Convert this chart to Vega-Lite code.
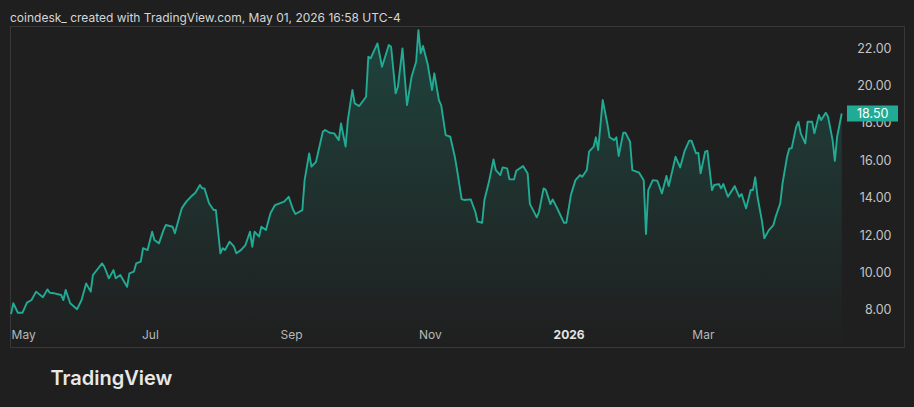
{
  "$schema": "https://vega.github.io/schema/vega-lite/v6.json",
  "autosize": "none",
  "width": 894,
  "height": 321,
  "padding": {"left": 10, "top": 26, "right": 10, "bottom": 60},
  "background": "#1f1f1f",
  "title": {
    "text": "coindesk_ created with TradingView.com, May 01, 2026 16:58 UTC-4",
    "anchor": "start",
    "frame": "group",
    "offset": -8,
    "baseline": "alphabetic",
    "font": "Inter",
    "fontSize": 12,
    "fontWeight": "normal",
    "color": "#d6d6d6"
  },
  "data": {
    "values": [
      {"date": "2025-05-01", "close": 7.78},
      {"date": "2025-05-02", "close": 8.36},
      {"date": "2025-05-04", "close": 7.85},
      {"date": "2025-05-06", "close": 7.85},
      {"date": "2025-05-08", "close": 8.39},
      {"date": "2025-05-10", "close": 8.53},
      {"date": "2025-05-12", "close": 8.98},
      {"date": "2025-05-15", "close": 8.68},
      {"date": "2025-05-17", "close": 9.10},
      {"date": "2025-05-18", "close": 8.92},
      {"date": "2025-05-20", "close": 8.89},
      {"date": "2025-05-23", "close": 8.80},
      {"date": "2025-05-24", "close": 8.53},
      {"date": "2025-05-25", "close": 9.07},
      {"date": "2025-05-27", "close": 8.36},
      {"date": "2025-05-30", "close": 8.04},
      {"date": "2025-06-01", "close": 8.53},
      {"date": "2025-06-03", "close": 9.42},
      {"date": "2025-06-05", "close": 8.98},
      {"date": "2025-06-06", "close": 9.87},
      {"date": "2025-06-10", "close": 10.49},
      {"date": "2025-06-11", "close": 10.31},
      {"date": "2025-06-13", "close": 9.69},
      {"date": "2025-06-15", "close": 10.13},
      {"date": "2025-06-16", "close": 9.69},
      {"date": "2025-06-18", "close": 9.87},
      {"date": "2025-06-21", "close": 9.24},
      {"date": "2025-06-22", "close": 9.96},
      {"date": "2025-06-24", "close": 10.05},
      {"date": "2025-06-25", "close": 10.49},
      {"date": "2025-06-27", "close": 10.58},
      {"date": "2025-06-28", "close": 11.30},
      {"date": "2025-06-30", "close": 11.20},
      {"date": "2025-07-02", "close": 12.18},
      {"date": "2025-07-03", "close": 11.74},
      {"date": "2025-07-05", "close": 11.56},
      {"date": "2025-07-07", "close": 12.27},
      {"date": "2025-07-08", "close": 12.54},
      {"date": "2025-07-11", "close": 12.45},
      {"date": "2025-07-12", "close": 12.10},
      {"date": "2025-07-14", "close": 12.99},
      {"date": "2025-07-15", "close": 13.43},
      {"date": "2025-07-17", "close": 13.79},
      {"date": "2025-07-19", "close": 14.05},
      {"date": "2025-07-21", "close": 14.27},
      {"date": "2025-07-23", "close": 14.68},
      {"date": "2025-07-24", "close": 14.50},
      {"date": "2025-07-25", "close": 14.50},
      {"date": "2025-07-27", "close": 13.70},
      {"date": "2025-07-29", "close": 13.34},
      {"date": "2025-07-30", "close": 13.34},
      {"date": "2025-08-01", "close": 11.03},
      {"date": "2025-08-02", "close": 11.30},
      {"date": "2025-08-03", "close": 11.20},
      {"date": "2025-08-05", "close": 11.65},
      {"date": "2025-08-07", "close": 11.38},
      {"date": "2025-08-08", "close": 11.03},
      {"date": "2025-08-10", "close": 11.20},
      {"date": "2025-08-12", "close": 11.47},
      {"date": "2025-08-14", "close": 12.18},
      {"date": "2025-08-15", "close": 11.38},
      {"date": "2025-08-16", "close": 12.18},
      {"date": "2025-08-18", "close": 11.92},
      {"date": "2025-08-19", "close": 12.45},
      {"date": "2025-08-21", "close": 12.27},
      {"date": "2025-08-23", "close": 13.17},
      {"date": "2025-08-25", "close": 13.61},
      {"date": "2025-08-27", "close": 13.70},
      {"date": "2025-08-29", "close": 13.79},
      {"date": "2025-08-31", "close": 14.05},
      {"date": "2025-09-02", "close": 13.34},
      {"date": "2025-09-03", "close": 13.13},
      {"date": "2025-09-06", "close": 13.34},
      {"date": "2025-09-07", "close": 14.94},
      {"date": "2025-09-09", "close": 16.37},
      {"date": "2025-09-10", "close": 15.66},
      {"date": "2025-09-12", "close": 15.92},
      {"date": "2025-09-15", "close": 17.53},
      {"date": "2025-09-16", "close": 17.62},
      {"date": "2025-09-18", "close": 17.47},
      {"date": "2025-09-20", "close": 17.44},
      {"date": "2025-09-22", "close": 17.08},
      {"date": "2025-09-23", "close": 17.97},
      {"date": "2025-09-25", "close": 16.73},
      {"date": "2025-09-26", "close": 18.15},
      {"date": "2025-09-28", "close": 19.76},
      {"date": "2025-09-29", "close": 19.04},
      {"date": "2025-10-01", "close": 18.90},
      {"date": "2025-10-04", "close": 19.40},
      {"date": "2025-10-05", "close": 21.54},
      {"date": "2025-10-06", "close": 21.45},
      {"date": "2025-10-07", "close": 21.72},
      {"date": "2025-10-09", "close": 22.25},
      {"date": "2025-10-11", "close": 21.00},
      {"date": "2025-10-14", "close": 22.16},
      {"date": "2025-10-15", "close": 22.07},
      {"date": "2025-10-17", "close": 19.58},
      {"date": "2025-10-18", "close": 19.93},
      {"date": "2025-10-20", "close": 21.98},
      {"date": "2025-10-22", "close": 18.95},
      {"date": "2025-10-24", "close": 20.47},
      {"date": "2025-10-26", "close": 21.27},
      {"date": "2025-10-27", "close": 22.96},
      {"date": "2025-10-28", "close": 21.72},
      {"date": "2025-10-29", "close": 22.11},
      {"date": "2025-10-31", "close": 21.18},
      {"date": "2025-11-02", "close": 19.76},
      {"date": "2025-11-03", "close": 20.65},
      {"date": "2025-11-05", "close": 19.22},
      {"date": "2025-11-06", "close": 18.95},
      {"date": "2025-11-08", "close": 17.35},
      {"date": "2025-11-10", "close": 17.26},
      {"date": "2025-11-12", "close": 16.19},
      {"date": "2025-11-13", "close": 15.48},
      {"date": "2025-11-15", "close": 13.92},
      {"date": "2025-11-16", "close": 13.88},
      {"date": "2025-11-19", "close": 13.91},
      {"date": "2025-11-21", "close": 13.25},
      {"date": "2025-11-22", "close": 12.72},
      {"date": "2025-11-24", "close": 12.66},
      {"date": "2025-11-25", "close": 13.88},
      {"date": "2025-11-27", "close": 14.85},
      {"date": "2025-11-29", "close": 16.05},
      {"date": "2025-11-30", "close": 15.48},
      {"date": "2025-12-02", "close": 15.21},
      {"date": "2025-12-03", "close": 15.62},
      {"date": "2025-12-05", "close": 15.57},
      {"date": "2025-12-06", "close": 14.98},
      {"date": "2025-12-08", "close": 14.98},
      {"date": "2025-12-09", "close": 15.44},
      {"date": "2025-12-12", "close": 15.69},
      {"date": "2025-12-14", "close": 15.30},
      {"date": "2025-12-15", "close": 13.66},
      {"date": "2025-12-16", "close": 13.43},
      {"date": "2025-12-18", "close": 12.95},
      {"date": "2025-12-19", "close": 13.25},
      {"date": "2025-12-21", "close": 14.50},
      {"date": "2025-12-22", "close": 14.41},
      {"date": "2025-12-24", "close": 13.66},
      {"date": "2025-12-25", "close": 13.91},
      {"date": "2025-12-27", "close": 13.43},
      {"date": "2025-12-28", "close": 13.17},
      {"date": "2025-12-30", "close": 12.66},
      {"date": "2025-12-31", "close": 12.66},
      {"date": "2026-01-02", "close": 14.14},
      {"date": "2026-01-04", "close": 14.94},
      {"date": "2026-01-06", "close": 15.21},
      {"date": "2026-01-07", "close": 15.12},
      {"date": "2026-01-09", "close": 15.48},
      {"date": "2026-01-10", "close": 16.46},
      {"date": "2026-01-12", "close": 16.73},
      {"date": "2026-01-13", "close": 17.23},
      {"date": "2026-01-14", "close": 16.55},
      {"date": "2026-01-16", "close": 19.22},
      {"date": "2026-01-18", "close": 17.97},
      {"date": "2026-01-19", "close": 17.23},
      {"date": "2026-01-21", "close": 17.08},
      {"date": "2026-01-22", "close": 17.23},
      {"date": "2026-01-23", "close": 16.23},
      {"date": "2026-01-25", "close": 17.47},
      {"date": "2026-01-26", "close": 17.47},
      {"date": "2026-01-28", "close": 16.99},
      {"date": "2026-01-29", "close": 15.48},
      {"date": "2026-02-01", "close": 15.34},
      {"date": "2026-02-03", "close": 14.94},
      {"date": "2026-02-04", "close": 12.06},
      {"date": "2026-02-05", "close": 14.41},
      {"date": "2026-02-07", "close": 14.94},
      {"date": "2026-02-09", "close": 14.91},
      {"date": "2026-02-11", "close": 14.23},
      {"date": "2026-02-13", "close": 15.16},
      {"date": "2026-02-14", "close": 14.62},
      {"date": "2026-02-17", "close": 16.19},
      {"date": "2026-02-19", "close": 15.62},
      {"date": "2026-02-21", "close": 16.51},
      {"date": "2026-02-23", "close": 17.05},
      {"date": "2026-02-24", "close": 17.05},
      {"date": "2026-02-26", "close": 16.37},
      {"date": "2026-02-27", "close": 16.40},
      {"date": "2026-02-28", "close": 15.30},
      {"date": "2026-03-02", "close": 16.46},
      {"date": "2026-03-03", "close": 16.51},
      {"date": "2026-03-05", "close": 14.41},
      {"date": "2026-03-06", "close": 14.68},
      {"date": "2026-03-08", "close": 14.73},
      {"date": "2026-03-09", "close": 14.50},
      {"date": "2026-03-10", "close": 14.73},
      {"date": "2026-03-12", "close": 14.05},
      {"date": "2026-03-15", "close": 14.62},
      {"date": "2026-03-17", "close": 14.05},
      {"date": "2026-03-18", "close": 14.20},
      {"date": "2026-03-20", "close": 13.43},
      {"date": "2026-03-22", "close": 14.41},
      {"date": "2026-03-23", "close": 14.41},
      {"date": "2026-03-24", "close": 15.09},
      {"date": "2026-03-25", "close": 14.05},
      {"date": "2026-03-27", "close": 12.72},
      {"date": "2026-03-28", "close": 11.83},
      {"date": "2026-03-30", "close": 12.27},
      {"date": "2026-04-01", "close": 12.54},
      {"date": "2026-04-02", "close": 12.99},
      {"date": "2026-04-04", "close": 13.70},
      {"date": "2026-04-05", "close": 14.77},
      {"date": "2026-04-07", "close": 16.19},
      {"date": "2026-04-08", "close": 16.64},
      {"date": "2026-04-09", "close": 16.64},
      {"date": "2026-04-11", "close": 17.79},
      {"date": "2026-04-12", "close": 18.06},
      {"date": "2026-04-13", "close": 17.44},
      {"date": "2026-04-15", "close": 16.91},
      {"date": "2026-04-16", "close": 18.06},
      {"date": "2026-04-18", "close": 18.06},
      {"date": "2026-04-19", "close": 17.44},
      {"date": "2026-04-21", "close": 18.42},
      {"date": "2026-04-22", "close": 18.15},
      {"date": "2026-04-24", "close": 18.54},
      {"date": "2026-04-25", "close": 18.33},
      {"date": "2026-04-27", "close": 17.08},
      {"date": "2026-04-28", "close": 15.97},
      {"date": "2026-04-29", "close": 17.26},
      {"date": "2026-05-01", "close": 18.50}
    ]
  },
  "encoding": {
    "x": {
      "field": "date",
      "type": "temporal",
      "scale": {
        "type": "utc",
        "domain": [
          {"year": 2025, "month": 4, "date": 30, "hours": 13, "utc": true},
          {"year": 2026, "month": 5, "date": 28, "hours": 9, "utc": true}
        ],
        "nice": false
      },
      "axis": {
        "orient": "bottom",
        "values": [
          {"year": 2025, "month": 5, "date": 1, "utc": true},
          {"year": 2025, "month": 7, "date": 1, "utc": true},
          {"year": 2025, "month": 9, "date": 1, "utc": true},
          {"year": 2025, "month": 11, "date": 1, "utc": true},
          {"year": 2026, "month": 1, "date": 1, "utc": true},
          {"year": 2026, "month": 3, "date": 1, "utc": true}
        ],
        "labelExpr": "utcmonth(datum.value) == 0 ? utcFormat(datum.value, '%Y') : utcFormat(datum.value, '%b')",
        "labelAlign": {"condition": {"test": "utcmonth(datum.value) == 4", "value": "left"}, "value": "center"},
        "labelFontWeight": {"condition": {"test": "utcmonth(datum.value) == 0", "value": "bold"}, "value": "normal"},
        "labelColor": {"condition": {"test": "utcmonth(datum.value) == 0", "value": "#e6e6e6"}, "value": "#b8b8b8"},
        "labelBaseline": "middle",
        "labelPadding": -13,
        "labelFlush": false,
        "labelOverlap": false,
        "ticks": false,
        "tickSize": 0,
        "domain": false,
        "grid": false,
        "title": "TradingView",
        "titleAnchor": "start",
        "titleAlign": "left",
        "titleBaseline": "middle",
        "titleX": 40,
        "titleY": 31,
        "titleFont": "Inter",
        "titleFontSize": 20,
        "titleFontWeight": 600,
        "titleColor": "#e8e8e8"
      }
    },
    "y": {
      "field": "close",
      "type": "quantitative",
      "scale": {"domain": [6.02, 23.18], "nice": false, "zero": false},
      "axis": {
        "orient": "right",
        "values": [8, 10, 12, 14, 16, 18, 20, 22],
        "format": ".2f",
        "labelAlign": "right",
        "labelBaseline": "middle",
        "labelPadding": -13,
        "labelColor": "#c4c4c4",
        "labelFontSize": 12.5,
        "labelFlush": false,
        "ticks": false,
        "tickSize": 0,
        "domain": false,
        "grid": false,
        "title": null
      }
    }
  },
  "layer": [
    {
      "mark": {
        "type": "area",
        "color": {
          "gradient": "linear",
          "x1": 0, "y1": 0, "x2": 0, "y2": 1,
          "stops": [
            {"offset": 0, "color": "rgba(34,171,148,0.26)"},
            {"offset": 0.8, "color": "rgba(34,171,148,0.05)"},
            {"offset": 1, "color": "rgba(34,171,148,0)"}
          ]
        }
      },
      "encoding": {"y2": {"datum": 6.02}}
    },
    {
      "mark": {"type": "line", "color": "#22ab94", "strokeWidth": 1.9, "strokeJoin": "round"}
    },
    {
      "transform": [{"filter": "datum.close == 18.5"}],
      "mark": {
        "type": "point",
        "shape": "M0.66,-1H7.04V1H0.66Z",
        "size": 256,
        "filled": true,
        "opacity": 1,
        "color": "#22ab94"
      }
    },
    {
      "transform": [{"filter": "datum.close == 18.5"}],
      "mark": {
        "type": "text",
        "dx": 31,
        "align": "center",
        "baseline": "middle",
        "font": "Inter",
        "fontSize": 12.5,
        "color": "#ffffff"
      },
      "encoding": {"text": {"field": "close", "type": "quantitative", "format": ".2f"}}
    }
  ],
  "config": {
    "view": {"stroke": "#383838", "strokeWidth": 1},
    "axis": {"labelFont": "Inter", "labelFontSize": 12}
  }
}
